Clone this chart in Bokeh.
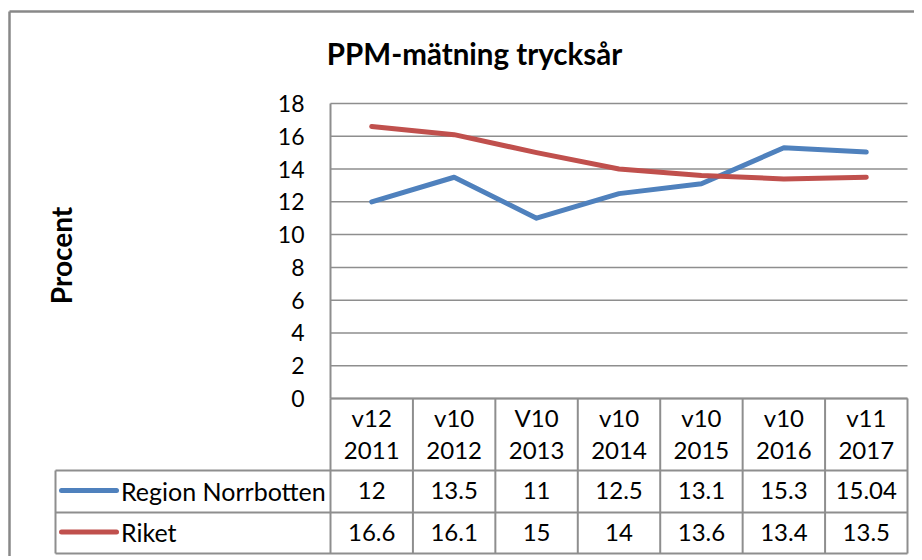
import math
from bokeh.plotting import figure
from bokeh.models import Range1d, FixedTicker, LinearAxis
from bokeh.embed import file_html
from bokeh.resources import INLINE
from bokeh.core.properties import value

# ---------------- data ----------------
title_text = "PPM-mätning trycksår"
y_label = "Procent"
weeks = ["v12", "v10", "V10", "v10", "v10", "v10", "v11"]
years = ["2011", "2012", "2013", "2014", "2015", "2016", "2017"]
series_names = ["Region Norrbotten", "Riket"]
norrbotten = [12, 13.5, 11, 12.5, 13.1, 15.3, 15.04]
riket = [16.6, 16.1, 15, 14, 13.6, 13.4, 13.5]
y_ticks = [0, 2, 4, 6, 8, 10, 12, 14, 16, 18]
colors = ["#4F81BD", "#C0504D"]

series = [norrbotten, riket]
n = len(weeks)
idx = list(range(n))

FONT = "Lato"
GRID = "#8E8E8E"

# ---------------- layout constants (picture pixels) ----------------
W, H = 914, 556
ORIGIN_X, ORIGIN_Y = 0, 0
PLOT_L, PLOT_R = 330, 907          # plot area left/right
PLOT_T, PLOT_B = 103, 398          # plot area top (18) / bottom (0)
CW = (PLOT_R - PLOT_L) / n         # px per category
PY = (PLOT_B - PLOT_T) / (y_ticks[-1] - y_ticks[0])   # px per y unit


def px_x(px):
    return -0.5 + (px - PLOT_L) / CW


def px_y(py):
    return (PLOT_B - py) / PY


x_start = px_x(ORIGIN_X)
x_end = px_x(ORIGIN_X + W)
y_end = px_y(ORIGIN_Y)
y_start = px_y(ORIGIN_Y + H)

p = figure(width=W, height=H, x_range=Range1d(x_start, x_end),
           y_range=Range1d(y_start, y_end), x_axis_type=None, y_axis_type=None,
           output_backend="svg", toolbar_location=None, min_border=0)
p.grid.visible = False
p.outline_line_color = None
p.background_fill_color = "white"
p.border_fill_color = "white"

# outer chart border (left + top)
p.segment(x0=[px_x(9), px_x(9)], y0=[y_start, px_y(11)],
          x1=[px_x(9), x_end], y1=[px_y(11), px_y(11)],
          line_color="#888888", line_width=2.5)

# gridlines
left = -0.5
right = n - 0.5
p.segment(x0=[left] * len(y_ticks), y0=y_ticks, x1=[right] * len(y_ticks), y1=y_ticks,
          line_color=GRID, line_width=1.5)

# y axis drawn at the plot-area left edge
yax = LinearAxis(fixed_location=left, bounds=(y_ticks[0], y_ticks[-1]),
                 ticker=FixedTicker(ticks=y_ticks))
yax.axis_line_color = GRID
yax.axis_line_width = 2
yax.major_tick_out = 0
yax.major_tick_in = 0
yax.minor_tick_out = 0
yax.minor_tick_in = 0
yax.major_label_standoff = 26
yax.major_label_text_font = FONT
yax.major_label_text_font_size = "23px"
yax.major_label_text_color = "black"
p.add_layout(yax, "left")

# y-axis title
p.text(x=[px_x(60)], y=[px_y(255)], text=[y_label], angle=math.pi / 2,
       text_align="center", text_baseline="middle", text_font=value(FONT),
       text_font_size="28px", text_font_style="bold", text_color="black")

# chart title
p.text(x=[px_x(474)], y=[px_y(53)], text=[title_text], text_align="center",
       text_baseline="middle", text_font=value(FONT), text_font_size="29.5px",
       text_font_style="bold", text_color="black")

# series lines
for vals, col in zip(series, colors):
    p.line(idx, vals, line_color=col, line_width=5, line_cap="round", line_join="round")

# ---------------- data table ----------------
leg_l = px_x(55)
hdr_b = px_y(PLOT_B + 72)
r1_b = px_y(PLOT_B + 114)
r2_b = px_y(PLOT_B + 155)

vx = [left + k for k in range(n + 1)]
p.segment(x0=vx, y0=[0] * len(vx), x1=vx, y1=[r2_b] * len(vx),
          line_color=GRID, line_width=2)
p.segment(x0=[leg_l], y0=[hdr_b], x1=[leg_l], y1=[r2_b], line_color=GRID, line_width=2)
p.segment(x0=[left], y0=[0], x1=[right], y1=[0], line_color=GRID, line_width=2)
p.segment(x0=[leg_l] * 3, y0=[hdr_b, r1_b, r2_b], x1=[right] * 3, y1=[hdr_b, r1_b, r2_b],
          line_color=GRID, line_width=2)

txt = dict(text_align="center", text_baseline="middle", text_font=value(FONT),
           text_font_size="24px", text_color="black")
p.text(x=idx, y=[px_y(PLOT_B + 19)] * n, text=weeks, **txt)
p.text(x=idx, y=[px_y(PLOT_B + 52)] * n, text=years, **txt)

row_y = [px_y(PLOT_B + 92), px_y(PLOT_B + 133.5)]
for vals, col, name, ry in zip(series, colors, series_names, row_y):
    p.text(x=idx, y=[ry] * n, text=[f"{v:g}" for v in vals], **txt)
    p.segment(x0=[px_x(61)], y0=[ry], x1=[px_x(116)], y1=[ry],
              line_color=col, line_width=5, line_cap="round")
    p.text(x=[px_x(120.5)], y=[ry], text=[name], text_align="left",
           text_baseline="middle", text_font=value(FONT), text_font_size="25px",
           text_color="black")

open("out.html", "w").write(file_html(p, INLINE))
